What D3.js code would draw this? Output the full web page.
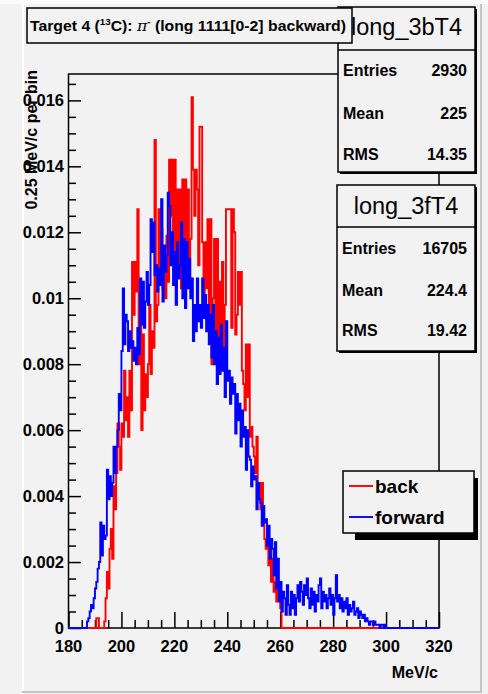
<!DOCTYPE html>
<html>
<head>
<meta charset="utf-8">
<script src="https://cdn.jsdelivr.net/npm/d3@7"></script>
<style>
  body { margin: 0; background: #f2f2f2; }
  svg { display: block; font-family: "Liberation Sans", Arial, sans-serif; }
</style>
</head>
<body>
<div id="chart"></div>
<script>
// histogram bins (0.5 MeV/c wide), fraction of entries per bin
const binWidth = 0.5;
const backStart = 190;
const backValues = [
  0, 0.0003, 0.0003, 0, 0, 0, 0, 0.0002, 0.0009, 0.0017,
  0.0012, 0.0024, 0.0030, 0.0021, 0.0043, 0.0036, 0.0047, 0.0062, 0.0055, 0.0048,
  0.0062, 0.0058, 0.0078, 0.0063, 0.0070, 0.0058, 0.0078, 0.0066, 0.0111, 0.0095,
  0.0111, 0.0102, 0.0127, 0.0080, 0.0093, 0.0060, 0.0089, 0.0066, 0.0077, 0.0070,
  0.0080, 0.0098, 0.0077, 0.0090, 0.0085, 0.0148, 0.0093, 0.0098, 0.0127, 0.0108,
  0.0121, 0.0103, 0.0112, 0.0100, 0.0119, 0.0105, 0.0142, 0.0125, 0.0142, 0.0112,
  0.0142, 0.0104, 0.0133, 0.0110, 0.0133, 0.0103, 0.0136, 0.0107, 0.0136, 0.0115,
  0.0133, 0.0106, 0.0118, 0.0161, 0.0139, 0.0125, 0.0139, 0.0133, 0.0110, 0.0152,
  0.0152, 0.0117, 0.0097, 0.0117, 0.0103, 0.0124, 0.0090, 0.0124, 0.0080, 0.0100,
  0.0118, 0.0085, 0.0118, 0.0080, 0.0105, 0.0088, 0.0111, 0.0082, 0.0098, 0.0127,
  0.0127, 0.0127, 0.0127, 0.0091, 0.0127, 0.0120, 0.0089, 0.0095, 0.0108, 0.0098,
  0.0108, 0.0078, 0.0074, 0.0066, 0.0086, 0.0070, 0.0086, 0.0058, 0.0061, 0.0055,
  0.0052, 0.0047, 0.0058, 0.0043, 0.0044, 0.0036, 0.0044, 0.0033, 0.0027, 0.0024,
  0.0027, 0.0019, 0.0022, 0.0014, 0.0021, 0.0011, 0.0014, 0.0008, 0.0014, 0.0010,
  0.0006, 0
];
const forwardStart = 186;
const forwardValues = [
  0, 0, 0.0002, 0.0003, 0.0005, 0.0007, 0.0006, 0.0009, 0.0012, 0.0014,
  0.0018, 0.0020, 0.0032, 0.0022, 0.0031, 0.0027, 0.0028, 0.0048, 0.0039, 0.0046,
  0.0040, 0.0044, 0.0055, 0.0047, 0.0055, 0.0060, 0.0071, 0.0066, 0.0084, 0.0103,
  0.0086, 0.0095, 0.0093, 0.0084, 0.0090, 0.0085, 0.0087, 0.0081, 0.0085, 0.0080,
  0.0091, 0.0083, 0.0106, 0.0092, 0.0105, 0.0091, 0.0099, 0.0108, 0.0098, 0.0104,
  0.0124, 0.0114, 0.0123, 0.0107, 0.0110, 0.0102, 0.0109, 0.0104, 0.0130, 0.0099,
  0.0116, 0.0108, 0.0113, 0.0132, 0.0128, 0.0110, 0.0120, 0.0104, 0.0114, 0.0098,
  0.0117, 0.0106, 0.0110, 0.0123, 0.0100, 0.0118, 0.0097, 0.0117, 0.0103, 0.0112,
  0.0100, 0.0106, 0.0087, 0.0098, 0.0090, 0.0106, 0.0093, 0.0098, 0.0091, 0.0106,
  0.0094, 0.0101, 0.0090, 0.0098, 0.0086, 0.0095, 0.0082, 0.0098, 0.0080, 0.0090,
  0.0074, 0.0088, 0.0077, 0.0092, 0.0078, 0.0085, 0.0070, 0.0093, 0.0075, 0.0078,
  0.0068, 0.0076, 0.0071, 0.0074, 0.0059, 0.0071, 0.0063, 0.0068, 0.0055, 0.0066,
  0.0058, 0.0061, 0.0048, 0.0060, 0.0052, 0.0051, 0.0043, 0.0049, 0.0045, 0.0046,
  0.0036, 0.0044, 0.0039, 0.0038, 0.0031, 0.0037, 0.0032, 0.0033, 0.0025, 0.0031,
  0.0021, 0.0027, 0.0024, 0.0016, 0.0026, 0.0012, 0.0021, 0.0008, 0.0014, 0.0005,
  0.0011, 0.0009, 0.0004, 0.0013, 0.0007, 0.0004, 0.0011, 0.0006, 0.0010, 0.0004,
  0.0009, 0.0013, 0.0008, 0.0014, 0.0011, 0.0007, 0.0013, 0.0010, 0.0015, 0.0009,
  0.0006, 0.0012, 0.0007, 0.0011, 0.0005, 0.0010, 0.0008, 0.0013, 0.0015, 0.0006,
  0.0011, 0.0008, 0.0010, 0.0006, 0.0009, 0.0012, 0.0007, 0.0010, 0.0004, 0.0009,
  0.0016, 0.0008, 0.0010, 0.0006, 0.0009, 0.0005, 0.0008, 0.0006, 0.0009, 0.0004,
  0.0007, 0.0005, 0.0006, 0.0008, 0.0004, 0.0005, 0.0006, 0.0003, 0.0005, 0.0004,
  0.0003, 0.0004, 0.0002, 0.0003, 0.0002, 0.0001, 0.0002, 0.0002, 0.0001, 0.0002,
  0.0001, 0.0001, 0.0001, 0, 0.0001, 0.0001, 0, 0.0001
];

const xTicks = [180, 200, 220, 240, 260, 280, 300, 320];
const yTicks = [0, 0.002, 0.004, 0.006, 0.008, 0.01, 0.012, 0.014, 0.016];

const statsBack = [["Entries", "2930"], ["Mean", "225"], ["RMS", "14.35"]];
const statsForward = [["Entries", "16705"], ["Mean", "224.4"], ["RMS", "19.42"]];

const W = 488, H = 694;
const svg = d3.select("#chart").append("svg")
    .attr("width", W)
    .attr("height", H);

// canvas with bevel edges
svg.append("rect").attr("width", W).attr("height", H).attr("fill", "#f2f2f2");
svg.append("rect").attr("x", 0).attr("y", 0).attr("width", W).attr("height", 4).attr("fill", "#fbfbfb");
svg.append("rect").attr("x", 22).attr("y", 4).attr("width", 2).attr("height", 689).attr("fill", "#ffffff");
svg.append("rect").attr("x", 480).attr("y", 4).attr("width", 2).attr("height", 689).attr("fill", "#c4c4c4");
svg.append("rect").attr("x", 22).attr("y", 691).attr("width", 460).attr("height", 2).attr("fill", "#c4c4c4");

const x = d3.scaleLinear().domain([180, 320]).range([68.5, 439]);
const y = d3.scaleLinear().domain([0, 0.0168]).range([628, 74]);

// frame
svg.append("rect")
    .attr("x", x(180)).attr("y", y(0.0168))
    .attr("width", x(320) - x(180)).attr("height", y(0) - y(0.0168))
    .attr("fill", "none").attr("stroke", "#000").attr("stroke-width", 1.5);

// axes
const xAxis = svg.append("g").attr("transform", `translate(0,${y(0)})`);
xAxis.call(d3.axisBottom(x).tickValues(d3.range(180, 321, 5)).tickSize(0).tickFormat(""));
xAxis.select(".domain").remove();
xAxis.selectAll(".tick line")
    .attr("y2", d => (d % 20 === 0 ? -16 : -8))
    .attr("stroke", "#000").attr("stroke-width", 1.5);
xTicks.forEach(t => {
  svg.append("text")
      .attr("x", x(t)).attr("y", 652)
      .attr("text-anchor", "middle")
      .style("font-size", "16.5px").style("font-weight", "bold")
      .text(t);
});

const yMinor = d3.range(0, 0.01651, 0.0005);
const yAxis = svg.append("g").attr("transform", `translate(${x(180)},0)`);
yAxis.call(d3.axisLeft(y).tickValues(yMinor).tickSize(0).tickFormat(""));
yAxis.select(".domain").remove();
yAxis.selectAll(".tick line")
    .attr("x2", d => (Math.abs(d / 0.002 - Math.round(d / 0.002)) < 1e-6 ? 12.5 : 7.5))
    .attr("stroke", "#000").attr("stroke-width", 1.5);
yTicks.forEach(t => {
  svg.append("text")
      .attr("x", 64).attr("y", y(t) + 6)
      .attr("text-anchor", "end")
      .style("font-size", "16.5px").style("font-weight", "bold")
      .text(+t.toFixed(3));
});

svg.append("text")
    .attr("x", 438).attr("y", 678)
    .attr("text-anchor", "end")
    .style("font-size", "16px").style("font-weight", "bold")
    .text("MeV/c");

svg.append("text")
    .attr("transform", "translate(37,70) rotate(-90)")
    .attr("text-anchor", "end")
    .style("font-size", "16px").style("font-weight", "bold")
    .text("0.25 MeV/c per bin");

// histograms, padded with empty bins over the full axis range
function histPoints(start, values) {
  const pts = [];
  const n = Math.round((320 - 180) / binWidth);
  for (let i = 0; i < n; i++) {
    const lo = 180 + i * binWidth;
    const k = Math.round((lo - start) / binWidth);
    pts.push([lo, k >= 0 && k < values.length ? values[k] : 0]);
  }
  pts.push([320, pts[pts.length - 1][1]]);
  return pts;
}
const line = d3.line().x(d => x(d[0])).y(d => y(d[1])).curve(d3.curveStepAfter);

svg.append("path")
    .attr("d", line(histPoints(backStart, backValues)))
    .attr("fill", "none").attr("stroke", "#ff0000").attr("stroke-width", 1.9);
svg.append("path")
    .attr("d", line(histPoints(forwardStart, forwardValues)))
    .attr("fill", "none").attr("stroke", "#0000ff").attr("stroke-width", 1.9);

// stats boxes
function statsBox(bx, by, bw, bh, name, rows, sepY, headBase, rowBase) {
  const g = svg.append("g");
  g.append("rect").attr("x", bx + 2).attr("y", by + 2).attr("width", bw).attr("height", bh).attr("fill", "#000");
  g.append("rect").attr("x", bx).attr("y", by).attr("width", bw).attr("height", bh)
      .attr("fill", "#f2f2f2").attr("stroke", "#000").attr("stroke-width", 1.5);
  g.append("line").attr("x1", bx).attr("x2", bx + bw).attr("y1", sepY).attr("y2", sepY)
      .attr("stroke", "#000").attr("stroke-width", 1.5);
  g.append("text").attr("x", bx + bw / 2).attr("y", headBase)
      .attr("text-anchor", "middle").style("font-size", "23.5px")
      .text(name);
  rows.forEach((r, i) => {
    g.append("text").attr("x", bx + 5).attr("y", rowBase[i])
        .style("font-size", "16px").style("font-weight", "bold").text(r[0]);
    g.append("text").attr("x", bx + bw - 8).attr("y", rowBase[i])
        .attr("text-anchor", "end")
        .style("font-size", "16px").style("font-weight", "bold").text(r[1]);
  });
}
statsBox(338, 7, 137, 165, "long_3bT4", statsBack, 50, 35, [76, 119, 160]);
statsBox(337, 185, 138, 166, "long_3fT4", statsForward, 227, 214, [254, 296, 336]);

// title box
svg.append("rect").attr("x", 27).attr("y", 8).attr("width", 325).attr("height", 35)
    .attr("fill", "#f2f2f2").attr("stroke", "#000").attr("stroke-width", 1.5);
const title = svg.append("text").attr("x", 30).attr("y", 31)
    .style("font-size", "14.5px").style("font-weight", "bold")
    .attr("textLength", 316).attr("lengthAdjust", "spacingAndGlyphs");
title.append("tspan").text("Target 4 (");
title.append("tspan").attr("dy", -6).style("font-size", "9px").text("13");
title.append("tspan").attr("dy", 6).text("C): ");
title.append("tspan").style("font-family", "DejaVu Serif").style("font-style", "italic").style("font-weight", "normal").text("π");
title.append("tspan").attr("dy", -6).style("font-size", "9px").text("-");
title.append("tspan").attr("dy", 6).text(" (long 1111[0-2] backward)");

// legend
const legendItems = [["back", "#ff0000"], ["forward", "#0000ff"]];
svg.append("rect").attr("x", 355).attr("y", 478).attr("width", 123).attr("height", 62).attr("fill", "#000");
svg.append("rect").attr("x", 343).attr("y", 471).attr("width", 131).attr("height", 62)
    .attr("fill", "#f2f2f2").attr("stroke", "#000").attr("stroke-width", 1.5);
legendItems.forEach((d, i) => {
  const ly = 486 + i * 31;
  svg.append("line").attr("x1", 349).attr("x2", 373).attr("y1", ly).attr("y2", ly)
      .attr("stroke", d[1]).attr("stroke-width", 1.9);
  svg.append("text").attr("x", 375).attr("y", ly + 7)
      .style("font-size", "19px").style("font-weight", "bold").text(d[0]);
});
</script>
</body>
</html>
